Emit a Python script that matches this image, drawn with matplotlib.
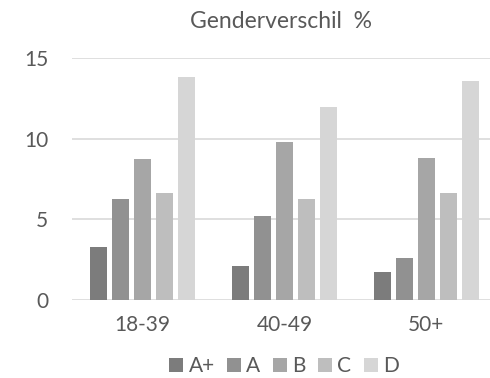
import numpy as np
import matplotlib as mpl
mpl.use("agg")
import matplotlib.pyplot as plt

groups = ["18-39", "40-49", "50+"]
series = ["A+", "A", "B", "C", "D"]
vals_aplus = [3.27, 2.09, 1.74]
vals_a = [6.26, 5.21, 2.60]
vals_b = [8.72, 9.78, 8.78]
vals_c = [6.61, 6.26, 6.61]
vals_d = [13.84, 11.98, 13.58]
colors = ["#7c7c7c", "#919191", "#a6a6a6", "#bebebe", "#d6d6d6"]

plt.rcParams['font.family'] = ['Lato', 'DejaVu Sans']
txt = "#595959"

fig = plt.figure(figsize=(4.9, 3.78), dpi=100)
ax = fig.add_axes([72/490, 1-300/378, 1-72/490, (300-58)/378])

x = np.arange(len(groups))
pitch = 0.155
w = 0.12
allvals = [vals_aplus, vals_a, vals_b, vals_c, vals_d]
for i, v in enumerate(allvals):
    ax.bar(x + (i-2)*pitch, v, width=w, color=colors[i], label=series[i], zorder=3)

ax.set_ylim(0, 15)
ax.set_xlim(-0.499, 2.45)
ax.set_yticks([0, 5, 10, 15])
ax.set_xticks(x)
ax.set_xticklabels(groups)
ax.yaxis.grid(True, color="#d9d9d9", linewidth=1.2, zorder=0)
ax.set_axisbelow(True)
for s in ax.spines.values():
    s.set_visible(False)
ax.tick_params(axis='both', length=0, labelsize=15, labelcolor=txt)
ax.tick_params(axis='y', pad=17)
ax.tick_params(axis='x', pad=11)

fig.text(281/490, 1-22/378, "Genderverschil  %", ha="center", va="center", fontsize=16.5, color=txt)

fig.legend(loc="center", bbox_to_anchor=(284/490, 1-366/378), ncol=5, frameon=False,
           fontsize=15, labelcolor=txt, handlelength=0.67, handleheight=0.67,
           handletextpad=0.25, columnspacing=0.6)

fig.savefig("out.png", dpi=100)
